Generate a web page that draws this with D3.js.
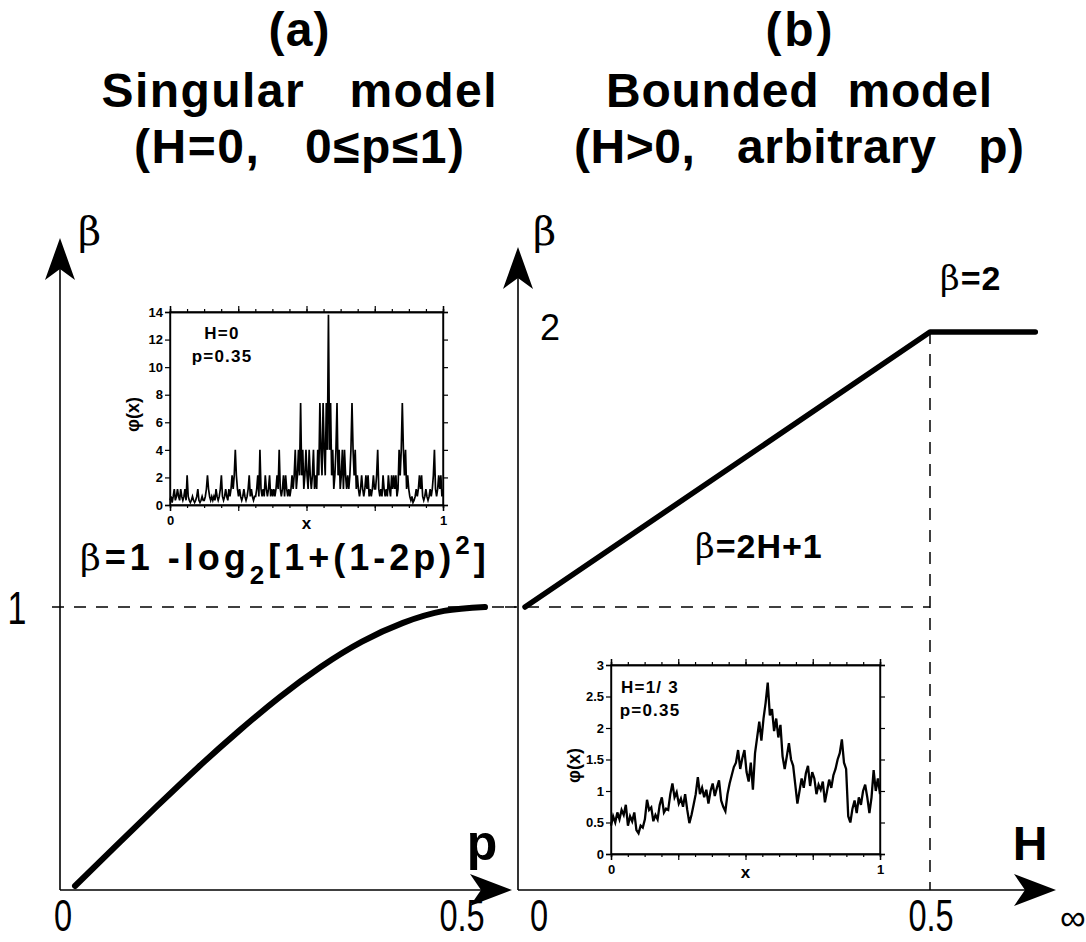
<!DOCTYPE html>
<html><head><meta charset="utf-8">
<script src="https://cdn.jsdelivr.net/npm/d3@7"></script>
<style>
body{margin:0;background:#fff}
text{white-space:pre}
</style>
</head><body>
<svg id="c" width="1086" height="942"></svg>
<script>
// ---------------- data ----------------
const curveA_p    = [0,0.05,0.1,0.15,0.2,0.25,0.3,0.35,0.4,0.45,0.5];
const curveA_beta = [0,0.144,0.286,0.425,0.556,0.678,0.786,0.876,0.943,0.986,1.0];
const lineB_H     = [0,0.5,0.63];
const lineB_beta  = [1,2,2];

const mainTicksA = ["0","0.5"];
const mainTicksB = ["0","0.5","\u221e"];

const insetA_phi = [
0.34,0.62,0.18,0.62,1.16,0.34,0.62,1.16,0.62,0.34,1.16,0.62,0.34,0.62,1.16,0.34,
2.15,0.62,0.34,0.18,0.34,0.62,0.34,0.18,0.34,0.62,1.16,0.34,0.18,0.34,0.62,0.34,
0.34,0.62,1.16,2.15,1.16,0.62,0.34,0.62,0.34,0.62,0.34,1.16,0.62,0.34,0.62,1.16,
2.15,0.62,0.34,0.62,1.16,0.62,0.34,1.16,0.62,1.16,2.15,1.16,2.15,4.0,2.15,1.16,
0.62,1.16,0.62,0.34,0.62,1.16,0.62,0.34,0.62,1.16,2.15,0.62,1.16,0.62,0.34,0.62,
0.62,1.16,2.15,0.62,4.0,1.16,0.62,1.16,0.62,2.15,1.16,0.62,1.16,2.15,0.62,1.16,
0.62,1.16,0.62,1.16,2.15,1.16,4.0,1.16,0.62,1.16,2.15,0.62,2.15,1.16,0.62,1.16,
0.62,1.16,2.15,1.16,2.15,4.0,1.16,2.15,4.0,2.15,7.4,2.15,4.0,1.16,2.15,4.0,
2.15,1.16,4.0,2.15,1.16,2.15,4.0,1.16,2.15,1.16,4.0,2.15,7.4,4.0,2.15,7.4,
4.0,2.15,7.4,4.0,13.8,4.0,7.4,2.15,4.0,1.16,2.15,4.0,7.4,2.15,4.0,1.16,
2.15,4.0,1.16,4.0,2.15,1.16,2.15,1.16,2.15,4.0,7.4,4.0,2.15,4.0,1.16,2.15,
1.16,0.62,1.16,2.15,1.16,0.62,1.16,2.15,1.16,2.15,0.62,1.16,0.62,1.16,2.15,1.16,
1.16,2.15,4.0,1.16,0.62,1.16,0.62,2.15,1.16,0.62,1.16,0.62,2.15,1.16,0.62,2.15,
1.16,2.15,1.16,2.15,0.62,1.16,4.0,2.15,4.0,7.4,4.0,2.15,4.0,1.16,2.15,1.16,
0.62,0.34,0.62,0.18,0.34,0.62,1.16,0.62,1.16,2.15,1.16,2.15,0.62,0.34,0.62,1.16,
0.62,0.34,0.62,1.16,0.62,1.16,2.15,4.0,1.16,0.62,1.16,2.15,1.16,2.15,0.62,1.16
];

const insetB_phi = [
0.45,0.6,0.5,0.66,0.55,0.7,0.62,0.78,0.45,0.6,0.52,0.66,0.38,0.33,0.45,0.42,
0.55,0.86,0.7,0.74,0.52,0.62,0.55,0.78,0.9,0.66,0.72,0.7,0.95,1.12,0.9,0.98,
0.8,0.88,0.75,0.95,0.7,0.49,0.62,0.78,0.95,1.22,0.95,1.05,0.9,1.02,0.8,1.0,
1.12,0.92,1.05,1.17,0.85,0.75,0.68,0.95,1.12,1.25,1.38,1.45,1.65,1.35,1.52,1.65,
1.3,1.15,1.45,1.02,1.6,1.85,2.1,1.8,2.15,2.4,2.72,2.2,2.3,1.95,2.15,1.85,
2.05,1.55,1.35,1.55,1.76,1.5,1.4,1.1,0.8,1.0,1.2,1.05,1.28,1.4,1.08,1.3,
1.2,0.95,1.1,1.02,1.15,0.82,1.0,1.18,1.05,1.25,1.35,1.5,1.6,1.82,1.45,1.35,
0.6,0.5,0.72,0.85,0.65,0.9,0.78,1.0,1.1,0.9,0.65,0.9,1.33,1.0,1.2,0.95
];

const insetA_yTicks = [0,2,4,6,8,10,12,14];
const insetB_yTicks = [0,0.5,1,1.5,2,2.5,3];
const insetX_major  = [0,0.25,0.5,0.75,1];
const insetX_minor  = d3.range(0,17).map(i=>i/16);

// ---------------- drawing ----------------
const svg = d3.select("#c");
const SANS = "'Liberation Sans', Arial, Helvetica, sans-serif";
const SERIF = "'DejaVu Serif', 'Liberation Serif', serif";

// Titles (centred columns, widths matched with textLength)
function title(cx, lines, lens){
  lines.forEach((t,i)=>{
    svg.append("text").attr("x",cx - lens[i]/2).attr("y",[46,107,163][i])
      .attr("font-family",SANS).attr("font-weight","bold").attr("font-size",48)
      .attr("textLength",lens[i]).attr("lengthAdjust","spacing").text(t);
  });
}
title(299, ["(a)", "Singular   model", "(H=0,   0\u2264p\u22641)"], [61,395,330]);
title(799, ["(b)", "Bounded  model", "(H>0,   arbitrary   p)"], [67,386,450]);

// scales
const xA = d3.scaleLinear().domain([0,0.5]).range([75,485]);
const yA = d3.scaleLinear().domain([0,1]).range([886,607]);
const xB = d3.scaleLinear().domain([0,0.5]).range([525,930]);
const yB = d3.scaleLinear().domain([1,2]).range([607,332]);

const g = svg.append("g");

function arrowUp(x,y){ return `M${x},${y} L${x-15},${y+42} L${x},${y+31} L${x+15},${y+42} Z`; }
function arrowRight(x,y){ return `M${x},${y} L${x-42},${y-16} L${x-31},${y} L${x-42},${y+16} Z`; }

// Left panel axes
g.append("line").attr("x1",60).attr("y1",250).attr("x2",60).attr("y2",890).attr("stroke","#000").attr("stroke-width",1.6);
g.append("line").attr("x1",60).attr("y1",890).attr("x2",500).attr("y2",890).attr("stroke","#000").attr("stroke-width",1.6);
g.append("path").attr("d",arrowUp(60,238)).attr("fill","#000");
g.append("path").attr("d",arrowRight(512,890)).attr("fill","#000");

// Right panel axes
g.append("line").attr("x1",518).attr("y1",258).attr("x2",518).attr("y2",890).attr("stroke","#000").attr("stroke-width",1.6);
g.append("line").attr("x1",518).attr("y1",890).attr("x2",1045).attr("y2",890).attr("stroke","#000").attr("stroke-width",1.6);
g.append("path").attr("d",arrowUp(518,247)).attr("fill","#000");
g.append("path").attr("d",arrowRight(1056,890)).attr("fill","#000");

// dashed lines
function dl(x1,y1,x2,y2){
  g.append("line").attr("x1",x1).attr("y1",y1).attr("x2",x2).attr("y2",y2)
   .attr("stroke","#000").attr("stroke-width",1.5).attr("stroke-dasharray","12,10");
}
dl(52, yA(1), 516, yA(1));
dl(505, yB(1), xB(0.5), yB(1));
dl(xB(0.5), yB(2), xB(0.5), 890);

// curve (a)
const dataA = curveA_p.map((p,i)=>[p,curveA_beta[i]]);
g.append("path").datum(dataA)
  .attr("d", d3.line().x(d=>xA(d[0])).y(d=>yA(d[1])).curve(d3.curveNatural))
  .attr("fill","none").attr("stroke","#000").attr("stroke-width",6).attr("stroke-linecap","round");

// line (b)
const dataB = lineB_H.map((h,i)=>[h,lineB_beta[i]]);
g.append("path").datum(dataB)
  .attr("d", d3.line().x(d=>xB(d[0])).y(d=>yB(d[1])))
  .attr("fill","none").attr("stroke","#000").attr("stroke-width",5.5)
  .attr("stroke-linejoin","round").attr("stroke-linecap","round");

// text helpers
function txt(x,y,t,opts={}){
  return svg.append("text").attr("x",x).attr("y",y).text(t)
    .attr("font-family",opts.family||SANS).attr("font-size",opts.size||40)
    .attr("font-weight",opts.weight||"normal").attr("text-anchor",opts.anchor||"start");
}
function ctxt(x,y,t,size){ // condensed label
  return svg.append("text").attr("transform",`translate(${x},${y}) scale(0.74,1)`)
    .attr("text-anchor","middle").attr("font-family",SANS).attr("font-size",size).text(t);
}
txt(78,245,"\u03b2",{family:SERIF,size:40});
txt(533,245,"\u03b2",{family:SERIF,size:40});
ctxt(17,624,"1",46);
txt(550,340,"2",{size:36,anchor:"middle"});
txt(482,860,"p",{size:50,weight:"bold",anchor:"middle"});
txt(1030,860,"H",{size:48,weight:"bold",anchor:"middle"});

// bottom tick labels
ctxt(xA(0)-12,931,mainTicksA[0],44);
ctxt(xA(0.5)-23,931,mainTicksA[1],44);
ctxt(xB(0)+14,931,mainTicksB[0],44);
ctxt(xB(0.5)+1,931,mainTicksB[1],44);
txt(1060,930,mainTicksB[2],{size:36});

// equations
const eqA = svg.append("text").attr("x",80).attr("y",570).attr("font-family",SANS)
  .attr("font-weight","bold").attr("font-size",36).attr("letter-spacing",4);
eqA.append("tspan").attr("font-family",SERIF).attr("font-weight","normal").text("\u03b2");
eqA.append("tspan").text("=1 -log");
eqA.append("tspan").attr("dy",14).attr("font-size",26).text("2");
eqA.append("tspan").attr("dy",-14).text("[1+(1-2p)");
eqA.append("tspan").attr("dy",-16).attr("font-size",26).text("2");
eqA.append("tspan").attr("dy",16).text("]");

const eqB = svg.append("text").attr("x",695).attr("y",558).attr("font-family",SANS)
  .attr("font-weight","bold").attr("font-size",34).attr("letter-spacing",1);
eqB.append("tspan").attr("font-family",SERIF).attr("font-weight","normal").text("\u03b2");
eqB.append("tspan").text("=2H+1");

const eqC = svg.append("text").attr("x",940).attr("y",290).attr("font-family",SANS)
  .attr("font-weight","bold").attr("font-size",34).attr("letter-spacing",1);
eqC.append("tspan").attr("font-family",SERIF).attr("font-weight","normal").text("\u03b2");
eqC.append("tspan").text("=2");

// ---------------- insets ----------------
function inset(box, data, yMax, yTicks, label1, label2, labX, labY, lw){
  const x = d3.scaleLinear().domain([0,1]).range([box.x0, box.x1]);
  const y = d3.scaleLinear().domain([0,yMax]).range([box.y1, box.y0]);
  const ig = svg.append("g");
  ig.append("path").datum(data)
    .attr("d", d3.line().x((d,i)=>x(i/(data.length-1))).y(d=>y(d)))
    .attr("fill","none").attr("stroke","#000").attr("stroke-width",lw).attr("stroke-linejoin","miter");
  ig.append("rect").attr("x",box.x0).attr("y",box.y0).attr("width",box.x1-box.x0).attr("height",box.y1-box.y0)
    .attr("fill","none").attr("stroke","#000").attr("stroke-width",1.4);
  const tf = "font-family:" + SANS + ";font-weight:bold;font-size:13px";
  const la = ig.append("g").attr("transform",`translate(${box.x0},0)`)
    .call(d3.axisLeft(y).tickValues(yTicks).tickFormat(d=>String(d)).tickSize(5).tickPadding(2));
  la.selectAll("text").attr("style",tf).attr("fill","#000");
  ig.append("g").attr("transform",`translate(${box.x1},0)`)
    .call(d3.axisRight(y).tickValues(yTicks).tickFormat("").tickSize(5));
  ig.append("g").attr("transform",`translate(0,${box.y1})`)
    .call(d3.axisBottom(x).tickValues(insetX_minor).tickFormat("").tickSize(3));
  ig.append("g").attr("transform",`translate(0,${box.y1})`)
    .call(d3.axisBottom(x).tickValues(insetX_major).tickFormat(d=> d===0?"0":(d===1?"1":"")).tickSize(6).tickPadding(5))
    .selectAll("text").attr("style",tf).attr("fill","#000");
  ig.append("g").attr("transform",`translate(0,${box.y0})`)
    .call(d3.axisTop(x).tickValues(insetX_minor).tickFormat("").tickSize(3));
  ig.append("g").attr("transform",`translate(0,${box.y0})`)
    .call(d3.axisTop(x).tickValues(insetX_major).tickFormat("").tickSize(6));
  ig.selectAll(".domain").attr("stroke","#000").attr("stroke-width",1.4);
  ig.selectAll(".tick line").attr("stroke","#000").attr("stroke-width",1.2);
  ig.append("text").attr("x",x(0.5)).attr("y",box.y1+24).attr("text-anchor","middle")
    .attr("style","font-family:"+SANS+";font-weight:bold;font-size:17px").text("x");
  ig.append("text").attr("transform",`translate(${box.x0-31},${(box.y0+box.y1)/2+6}) rotate(-90)`)
    .attr("text-anchor","middle")
    .attr("style","font-family:"+SANS+";font-weight:bold;font-size:18px").text("\u03c6(x)");
  ig.append("text").attr("x",labX).attr("y",labY).attr("text-anchor","middle")
    .attr("style","font-family:"+SANS+";font-weight:bold;font-size:17px;letter-spacing:1.2px").text(label1);
  ig.append("text").attr("x",labX).attr("y",labY+23).attr("text-anchor","middle")
    .attr("style","font-family:"+SANS+";font-weight:bold;font-size:17px;letter-spacing:1.2px").text(label2);
}
inset({x0:170,x1:443,y0:312,y1:505}, insetA_phi, 14, insetA_yTicks, "H=0", "p=0.35", 222, 339, 1.7);
inset({x0:611,x1:880,y0:665,y1:854}, insetB_phi, 3, insetB_yTicks, "H=1/ 3", "p=0.35", 650, 693, 2.3);
</script>
</body></html>
